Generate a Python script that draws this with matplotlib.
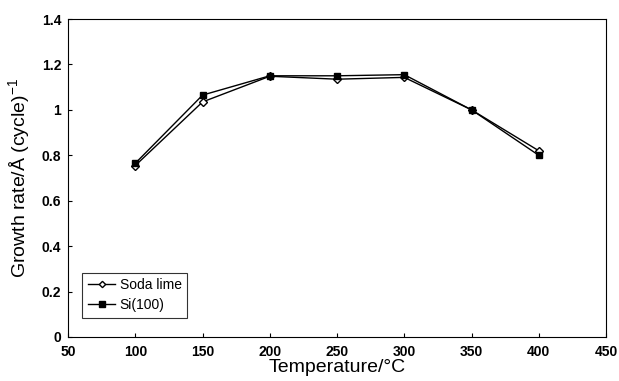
import matplotlib.pyplot as plt

temps = [100, 150, 200, 250, 300, 350, 400]
soda_lime = [0.755, 1.035, 1.148, 1.135, 1.143, 1.0, 0.82]
si100 = [0.765, 1.065, 1.15, 1.15, 1.155, 1.0, 0.80]

plt.rcParams['font.family'] = ['Liberation Sans', 'DejaVu Sans']

fig = plt.figure(figsize=(6.19, 3.81), dpi=100)
ax = fig.add_axes([0.110, 0.1155, 0.869, 0.8346])

ax.plot(temps, soda_lime, '-', color='black', lw=1.0, marker='D', ms=4,
        mfc='white', mec='black', mew=1.0, label='Soda lime')
ax.plot(temps, si100, '-', color='black', lw=1.0, marker='s', ms=5,
        mfc='black', mec='black', label='Si(100)')

ax.set_xlim(50, 450)
ax.set_ylim(0, 1.4)
ax.set_xticks(range(50, 451, 50))
ax.set_yticks([0, 0.2, 0.4, 0.6, 0.8, 1.0, 1.2, 1.4])
ax.set_yticklabels(['0', '0.2', '0.4', '0.6', '0.8', '1', '1.2', '1.4'])
ax.tick_params(direction='in', length=3, labelsize=10)
ax.tick_params(axis='x', pad=6)
ax.tick_params(axis='y', pad=5)
for lab in ax.get_xticklabels() + ax.get_yticklabels():
    lab.set_fontweight('bold')

ax.set_xlabel('Temperature/°C', fontsize=14, labelpad=0)
ax.set_ylabel(r'Growth rate/Å (cycle)$^{\mathregular{-1}}$', fontsize=14, labelpad=6)

leg = ax.legend(loc='lower left', frameon=True, fancybox=False, edgecolor='black',
                fontsize=10, handlelength=2.0, handletextpad=0.3, borderpad=0.4,
                labelspacing=0.45, borderaxespad=0, markerscale=0.8,
                bbox_to_anchor=(0.026, 0.06))
leg.get_frame().set_linewidth(0.8)

plt.savefig('out.png', dpi=100)
